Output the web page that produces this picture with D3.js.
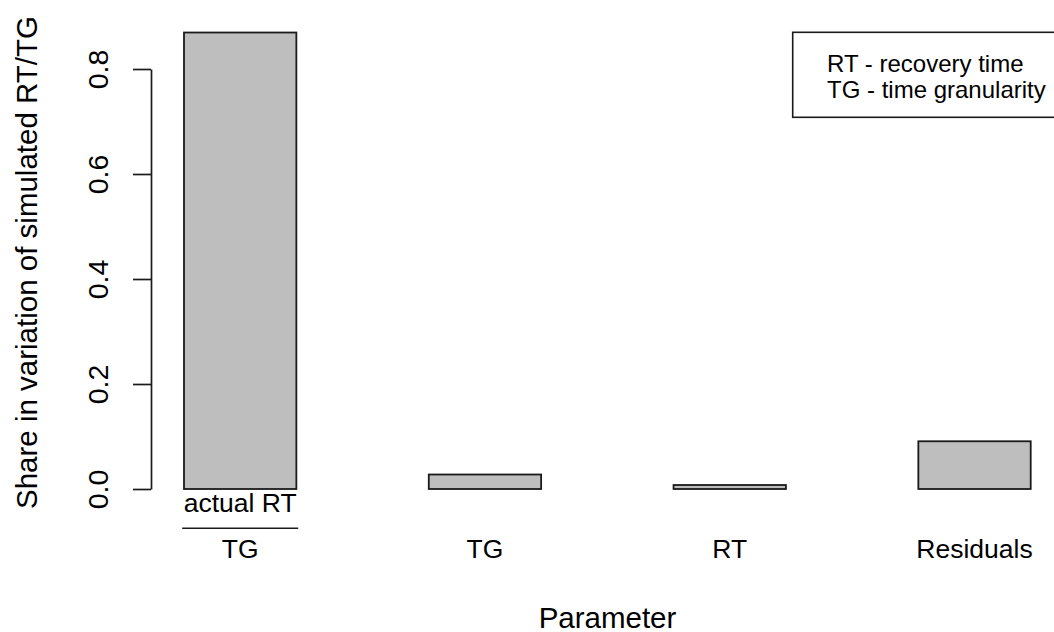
<!DOCTYPE html>
<html>
<head>
<meta charset="utf-8">
<script src="https://cdn.jsdelivr.net/npm/d3@7"></script>
<style>
  html, body { margin: 0; padding: 0; background: #fff; }
  svg { display: block; font-family: "Liberation Sans", Arial, Helvetica, sans-serif; }
</style>
</head>
<body>
<svg id="chart" width="1054" height="632"></svg>
<script>
// ---- data ----
const categories = ["actual RT / TG", "TG", "RT", "Residuals"];
const shares = [0.8695, 0.0276, 0.0076, 0.0909];
const yTicks = [0.0, 0.2, 0.4, 0.6, 0.8];
const legendLines = ["RT - recovery time", "TG - time granularity"];
const xTitle = "Parameter";
const yTitle = "Share in variation of simulated RT/TG";

const svg = d3.select("#chart");
const ink = "#1a1a1a";

const x = d3.scaleBand()
  .domain(categories)
  .range([184, 1030.7])
  .paddingInner(0.541)
  .paddingOuter(0);

const y = d3.scaleLinear()
  .domain([0, 0.8])
  .range([489, 69]);

// bars
svg.append("g").selectAll("rect")
  .data(categories.map((c, i) => ({ c, v: shares[i] })))
  .join("rect")
  .attr("x", d => x(d.c))
  .attr("width", x.bandwidth())
  .attr("y", d => y(d.v))
  .attr("height", d => y(0) - y(d.v))
  .attr("fill", "#bebebe")
  .attr("stroke", ink)
  .attr("stroke-width", 1.8);

// y axis
const yAxis = d3.axisLeft(y)
  .tickValues(yTicks)
  .tickSize(18)
  .tickSizeOuter(0)
  .tickFormat(d3.format(".1f"));
const gy = svg.append("g")
  .attr("transform", "translate(151,0)")
  .call(yAxis);
gy.select(".domain").attr("stroke", ink).attr("stroke-width", 1.7);
gy.selectAll(".tick line").attr("stroke", ink).attr("stroke-width", 1.7);
gy.selectAll(".tick text")
  .attr("fill", "#000")
  .attr("font-size", 28.5)
  .attr("x", null).attr("dy", null)
  .attr("text-anchor", "middle")
  .attr("transform", "translate(-43.3,0) rotate(-90)");

// x category labels
const xl = svg.append("g");
categories.forEach((c, i) => {
  const cx = x(c) + x.bandwidth() / 2;
  if (i === 0) {
    const parts = c.split(" / ");
    xl.append("text").attr("x", cx).attr("y", 511.5)
      .attr("text-anchor", "middle").attr("font-size", 26.5).attr("fill", "#000")
      .text(parts[0]);
    xl.append("line")
      .attr("x1", cx - 58).attr("x2", cx + 58)
      .attr("y1", 528.3).attr("y2", 528.3)
      .attr("stroke", ink).attr("stroke-width", 1.6);
    xl.append("text").attr("x", cx).attr("y", 557.5)
      .attr("text-anchor", "middle").attr("font-size", 26.5).attr("fill", "#000")
      .text(parts[1]);
  } else {
    xl.append("text").attr("x", cx).attr("y", 557.5)
      .attr("text-anchor", "middle").attr("font-size", 26.5).attr("fill", "#000")
      .text(c);
  }
});

// axis titles
svg.append("text")
  .attr("x", 607.5).attr("y", 627.5)
  .attr("text-anchor", "middle").attr("font-size", 29.5).attr("fill", "#000")
  .text(xTitle);
svg.append("text")
  .attr("transform", "translate(37,262.5) rotate(-90)")
  .attr("text-anchor", "middle").attr("font-size", 29.5).attr("fill", "#000")
  .text(yTitle);

// legend
const lg = svg.append("g");
lg.append("rect")
  .attr("x", 792.7).attr("y", 32.3)
  .attr("width", 280).attr("height", 85)
  .attr("fill", "none").attr("stroke", ink).attr("stroke-width", 1.6);
legendLines.forEach((t, i) => {
  lg.append("text")
    .attr("x", 827).attr("y", 71.7 + i * 26.6)
    .attr("font-size", 24).attr("fill", "#000")
    .text(t);
});
</script>
</body>
</html>
